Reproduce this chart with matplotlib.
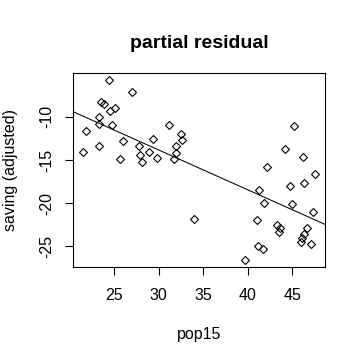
import numpy as np
import matplotlib.pyplot as plt

plt.rcParams['font.family'] = ['Liberation Sans', 'DejaVu Sans']

# pop15 (x) and adjusted saving (y)
pop15 = [24.37, 26.99, 23.51, 23.84, 24.48, 25.08, 23.25, 23.31, 24.74, 21.82,
         25.98, 29.31, 31.15, 23.27, 21.45, 25.64, 27.78, 27.84, 28.11, 28.90,
         29.76, 31.71, 31.93, 31.94, 32.50, 32.60,
         45.16, 44.18, 46.20, 42.12, 47.52, 46.28, 44.71, 41.26, 41.82, 44.97,
         47.29, 33.92, 41.00, 43.31, 43.58, 43.50, 46.61, 46.31, 46.09, 45.94,
         47.07, 41.11, 41.67, 39.69]
saving = [-5.75, -7.11, -8.22, -8.56, -9.31, -8.96, -10.0, -10.81, -10.92, -11.62,
          -12.74, -12.54, -10.92, -13.35, -14.05, -14.9, -13.35, -14.4, -15.2, -14.05,
          -14.75, -14.9, -14.2, -13.35, -11.97, -12.7,
          -11.04, -13.7, -14.63, -15.79, -16.67, -17.64, -17.98, -18.41, -19.95, -20.07,
          -21.0, -21.8, -21.92, -22.57, -22.85, -23.31, -22.85, -23.61, -24.07, -24.47,
          -24.7, -25.0, -25.28, -26.55]
slope = -0.4612   # fitted pop15 coefficient, line goes through the origin

xticks = [25, 30, 35, 40, 45]
yticks = [-10, -15, -20, -25]

fig = plt.figure(figsize=(3.63, 3.59), dpi=100)
ax = fig.add_axes([0.2011, 0.2554, 0.695, 0.5404])

ax.plot(pop15, saving, linestyle='none', marker='D', markersize=4.2,
        markerfacecolor='none', markeredgecolor='black', markeredgewidth=0.8)
ax.axline((0, 0), slope=slope, color='black', linewidth=0.75)

ax.set_xlim(20.36, 48.7)
ax.set_ylim(-27.42, -4.95)
ax.set_xticks(xticks)
ax.set_yticks(yticks)
ax.set_yticklabels([str(v) for v in yticks], rotation=90, va='center')
ax.tick_params(direction='out', length=6, width=0.8, labelsize=11.5, pad=9)
ax.tick_params(axis='y', pad=7.5)
for s in ax.spines.values():
    s.set_linewidth(0.8)

ax.set_xlabel('pop15', fontsize=11.5, labelpad=17)
ax.set_ylabel('saving (adjusted)', fontsize=11.5, labelpad=15)
ax.set_title('partial residual', fontsize=14, fontweight='bold', pad=18)

plt.savefig('out.png', dpi=100)
